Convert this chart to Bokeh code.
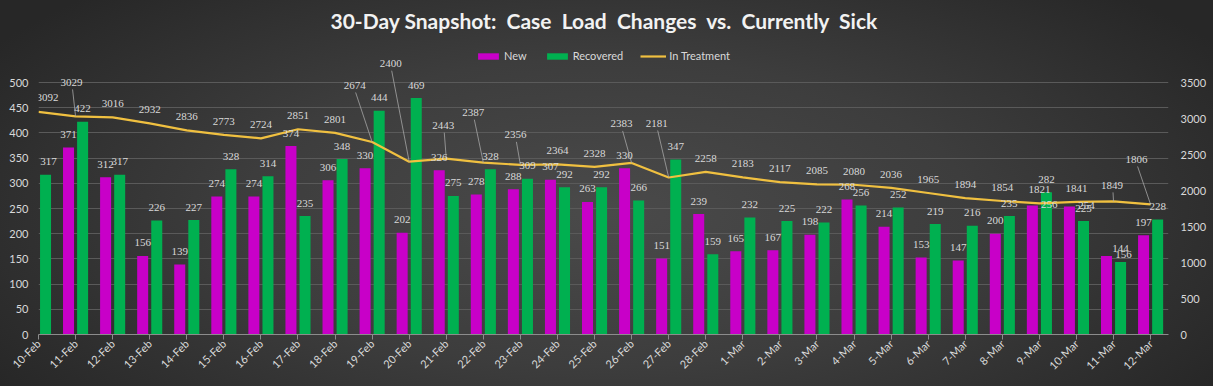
import math
from bokeh.plotting import figure
from bokeh.models import (Range1d, LinearAxis, Legend, LegendItem, FixedTicker,
                          ColumnDataSource, LabelSet)
from bokeh.transform import dodge
from bokeh.embed import file_html
from bokeh.resources import INLINE

# ---------------- data ----------------
dates = ["10-Feb", "11-Feb", "12-Feb", "13-Feb", "14-Feb", "15-Feb", "16-Feb", "17-Feb",
         "18-Feb", "19-Feb", "20-Feb", "21-Feb", "22-Feb", "23-Feb", "24-Feb", "25-Feb",
         "26-Feb", "27-Feb", "28-Feb", "1-Mar", "2-Mar", "3-Mar", "4-Mar", "5-Mar",
         "6-Mar", "7-Mar", "8-Mar", "9-Mar", "10-Mar", "11-Mar", "12-Mar"]
new_cases = [float("nan"), 371, 312, 156, 139, 274, 274, 374, 306, 330, 202, 326, 278, 288,
             307, 263, 330, 151, 239, 165, 167, 198, 268, 214, 153, 147, 200, 256, 254,
             156, 197]
recovered = [317, 422, 317, 226, 227, 328, 314, 235, 348, 444, 469, 275, 328, 309, 292,
             292, 266, 347, 159, 232, 225, 222, 256, 252, 219, 216, 235, 282, 225, 144, 228]
in_treatment = [3092, 3029, 3016, 2932, 2836, 2773, 2724, 2851, 2801, 2674, 2400, 2443,
                2387, 2356, 2364, 2328, 2383, 2181, 2258, 2183, 2117, 2085, 2080, 2036,
                1965, 1894, 1854, 1821, 1841, 1849, 1806]
left_ticks = list(range(0, 501, 50))
right_ticks = list(range(0, 3501, 500))

# ---------------- layout constants ----------------
W, H = 1213, 386
BL, BR, BB = 38, 45, 52
FRAME_TOP_EST = 37                # height taken by the title panel
FRAME_H_EST = H - FRAME_TOP_EST - BB
AXIS_H = 252                      # px height of the 0..500 scale
FRAME_W_EST = W - BL - BR
PX_X = 37.07                      # px per category
X_END = FRAME_W_EST / PX_X
U_LEFT = 500 / AXIS_H             # left units per px
U_RIGHT = 3500 / AXIS_H           # right units per px
FONT = "Lato"
TXT = "#d9d9d9"
MAGENTA = "#c800c8"
GREEN = "#00b050"
GOLD = "#f0c040"
OFF = 0.19
BAR_W = 0.297

# screen-pixel label nudges (dx right, dy down) for labels moved in the original
line_label_nudge = {0: (9, -14.5), 1: (-4, -34), 9: (-17.5, -56.5), 10: (-18.5, -98),
                    11: (-3, -33), 12: (-10, -50), 13: (-5, -30), 16: (-10, -39),
                    17: (-12, -54), 29: (-1.5, -16), 30: (-14, -45)}
leader_ids = [1, 9, 10, 11, 12, 13, 16, 17, 29, 30]
new_label_nudge = {27: (17, 12), 28: (17, 12), 29: (17, 12)}
rec_label_nudge = {0: (3, 0)}

xs = list(range(len(dates)))

p = figure(width=W, height=H, output_backend="svg",
           toolbar_location=None, x_range=Range1d(0, X_END),
           y_range=Range1d(0, FRAME_H_EST * U_LEFT),
           min_border_left=BL, min_border_right=BR, min_border_top=30, min_border_bottom=BB,
           background_fill_alpha=0, border_fill_alpha=0, outline_line_color=None,
           styles={"background": "radial-gradient(ellipse 60% 80% at 50% 55%, #4a4a4a 0%, #3d3d3d 50%, #272727 100%)"})
p.extra_y_ranges = {"right": Range1d(0, FRAME_H_EST * U_RIGHT)}

src = ColumnDataSource(dict(x=xs, new=new_cases, rec=recovered, it=in_treatment))

r_new = p.vbar(x=dodge("x", -OFF, range=p.x_range), top="new", width=BAR_W, source=src,
               fill_color=MAGENTA, line_color=None)
r_rec = p.vbar(x=dodge("x", OFF, range=p.x_range), top="rec", width=BAR_W, source=src,
               fill_color=GREEN, line_color=None)
r_it = p.line(x="x", y="it", source=src, y_range_name="right", line_color=GOLD, line_width=2.2)

# bar labels
nx, ny, nt = [], [], []
for i, v in enumerate(new_cases):
    if v != v:
        continue
    dx, dy = new_label_nudge.get(i, (0, 0))
    nx.append(i - OFF + dx / PX_X)
    ny.append(v + (13 - dy) * U_LEFT)
    nt.append(str(int(v)))
rx, ry, rt = [], [], []
for i, v in enumerate(recovered):
    dx, dy = rec_label_nudge.get(i, (0, 0))
    rx.append(i + OFF + dx / PX_X)
    ry.append(v + (13 - dy) * U_LEFT)
    rt.append(str(v))
for X, Y, T in ((nx, ny, nt), (rx, ry, rt)):
    p.add_layout(LabelSet(x="x", y="y", text="t", source=ColumnDataSource(dict(x=X, y=Y, t=T)),
                          text_font=FONT, text_font_size="11px", text_color=TXT,
                          text_align="center", text_baseline="middle"))

# line labels
lx, ly, lt = [], [], []
for i, v in enumerate(in_treatment):
    dx, dy = line_label_nudge.get(i, (0, -13.5))
    lx.append(i + dx / PX_X)
    ly.append(v - dy * U_RIGHT)
    lt.append(str(v))
p.segment(x0=[lx[i] + 1 / PX_X for i in leader_ids], y0=[ly[i] - 7 * U_RIGHT for i in leader_ids],
          x1=[xs[i] for i in leader_ids], y1=[in_treatment[i] for i in leader_ids],
          y_range_name="right", line_color="#a6a6a6", line_width=0.8)
p.add_layout(LabelSet(x="x", y="y", text="t", y_range_name="right",
                      source=ColumnDataSource(dict(x=lx, y=ly, t=lt)),
                      text_font=FONT, text_font_size="11px", text_color=TXT,
                      text_align="center", text_baseline="middle"))

# axes
p.xaxis.ticker = FixedTicker(ticks=xs)
p.xaxis.major_label_overrides = {i: d for i, d in enumerate(dates)}
p.xaxis.major_label_orientation = math.pi / 4
p.xaxis.axis_line_color = "#8c8c8c"
p.xaxis.major_tick_line_color = "#8c8c8c"
p.xaxis.major_tick_out = 5
p.xaxis.major_tick_in = 0
p.xaxis.minor_tick_line_color = None
p.xaxis.major_label_text_color = TXT
p.xaxis.major_label_text_font = FONT
p.xaxis.major_label_text_font_size = "11px"
p.xaxis.major_label_standoff = 2

p.yaxis.ticker = FixedTicker(ticks=left_ticks)
ra = LinearAxis(y_range_name="right", ticker=FixedTicker(ticks=right_ticks))
p.add_layout(ra, "right")
for ax in (p.yaxis[0], ra):
    ax.axis_line_color = None
    ax.major_tick_line_color = None
    ax.minor_tick_line_color = None
    ax.major_tick_out = 0
    ax.major_tick_in = 0
    ax.minor_tick_out = 0
    ax.minor_tick_in = 0
    ax.major_label_text_color = TXT
    ax.major_label_text_font = FONT
    ax.major_label_text_font_size = "11px"
p.yaxis[0].major_label_standoff = 10
ra.major_label_standoff = 12

p.xgrid.grid_line_color = None
p.ygrid.ticker = FixedTicker(ticks=left_ticks)
p.ygrid.grid_line_color = "#5a5a5a"
p.ygrid.grid_line_width = 1

legend = Legend(items=[LegendItem(label="New", renderers=[r_new]),
                       LegendItem(label="Recovered", renderers=[r_rec]),
                       LegendItem(label="In Treatment", renderers=[r_it])],
                orientation="horizontal", location=(436, FRAME_H_EST - 26),
                glyph_width=26, glyph_height=8, label_standoff=3, spacing=17,
                label_text_font=FONT, label_text_font_size="11px", label_text_color=TXT,
                background_fill_alpha=0, border_line_alpha=0, padding=1, margin=0)
p.add_layout(legend)

NB = "\u00a0"
p.title.text = f"30-Day Snapshot:{NB}{NB}Case{NB}{NB}Load{NB}{NB}Changes{NB}{NB}vs.{NB}{NB}Currently{NB}{NB}Sick"
p.title.align = "left"
p.title.offset = 292
p.title.text_font = FONT
p.title.text_font_size = "21px"
p.title.text_font_style = "bold"
p.title.text_color = "#f2f2f2"

open("out.html", "w").write(file_html(p, INLINE))
